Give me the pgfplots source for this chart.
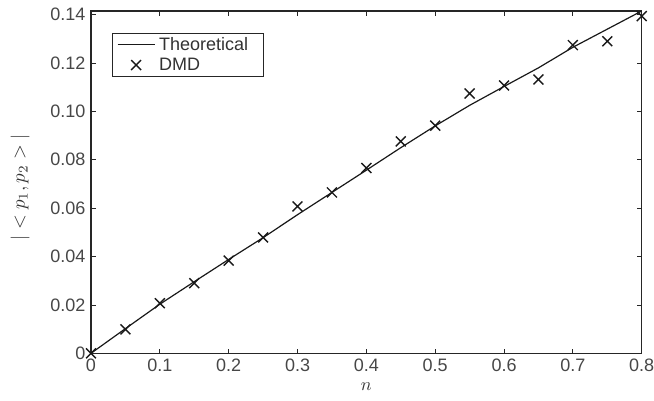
\documentclass[border=0pt]{standalone}
\usepackage{fontspec}
\setmainfont{Liberation Sans}
\usepackage{graphicx}
\usepackage{pgfplots}
\pgfplotsset{compat=1.18}
\usetikzlibrary{calc}
\begin{document}
\begin{tikzpicture}
\begin{axis}[
  name=ax,
  scale only axis,
  width=550.7pt, height=342.3pt,
  xmin=0, xmax=0.8, ymin=0, ymax=0.1415,
  axis line style={line width=1.1pt, black!85},
  tick style={line width=0.8pt, black!85},
  tick align=inside,
  major tick length=4.5pt,
  xtick={0,0.1,0.2,0.3,0.4,0.5,0.6,0.7,0.8},
  xticklabels={0,0.1,0.2,0.3,0.4,0.5,0.6,0.7,0.8},
  ytick={0,0.02,0.04,0.06,0.08,0.10,0.12,0.14},
  yticklabels={0,0.02,0.04,0.06,0.08,0.10,0.12,0.14},
  ticklabel style={font=\fontsize{18}{20}\selectfont, text=black!72},
  xticklabel style={yshift=-2.4pt},
  yticklabel style={xshift=-2pt},
  xlabel={\scalebox{1.8}{$n$}},
  ylabel={\scalebox{1.9}{$|<p_1, p_2>|$}},
  xlabel style={font=\normalsize, text=black!80, at={(axis description cs:0.5,-0.0976)}, anchor=center},
  ylabel style={font=\normalsize, text=black!80, at={(axis description cs:-0.1289,0.485)}, anchor=center},
  legend style={at={(0,1)}, anchor=north west, xshift=20.7pt, yshift=-21.7pt,
    draw=black!85, line width=0.8pt, font=\fontsize{18}{21}\selectfont, text=black!80,
    inner xsep=5pt, inner ysep=2.5pt, row sep=2pt, legend cell align=left},
  legend image code/.code={\draw[mark repeat=2,mark phase=2,#1] plot coordinates {(0pt,0pt) (18.5pt,0pt) (37pt,0pt)};},
  legend image post style={line width=1.1pt},
]
\addplot[black!90, line width=1.2pt] coordinates {
(0,0) (0.05,0.0102) (0.1,0.0203) (0.15,0.0296) (0.2,0.0388) (0.25,0.0478)
(0.3,0.0573) (0.35,0.0665) (0.4,0.0757) (0.45,0.0850) (0.5,0.0940)
(0.55,0.1025) (0.6,0.1103) (0.65,0.1180) (0.7,0.1265) (0.75,0.1340) (0.8,0.1415)
};
\addlegendentry{\hspace{2pt}Theoretical\rule{8pt}{0pt}}
\addplot[only marks, mark=x, mark size=7pt, black!90, mark options={line width=1.4pt}] coordinates {
(0,0) (0.05,0.0099) (0.1,0.0207) (0.15,0.0290) (0.2,0.0383) (0.25,0.0479)
(0.3,0.0607) (0.35,0.0665) (0.4,0.0766) (0.45,0.0876) (0.5,0.0941)
(0.55,0.1074) (0.6,0.1107) (0.65,0.1132) (0.7,0.1274) (0.75,0.1290) (0.8,0.1394)
};
\addlegendentry{\hspace{2pt}DMD}
\end{axis}
\pgfresetboundingbox
\path[use as bounding box] ($(ax.south west)+(-91pt,-46.7pt)$) rectangle ($(ax.north east)+(12.3pt,11pt)$);
\end{tikzpicture}
\end{document}
